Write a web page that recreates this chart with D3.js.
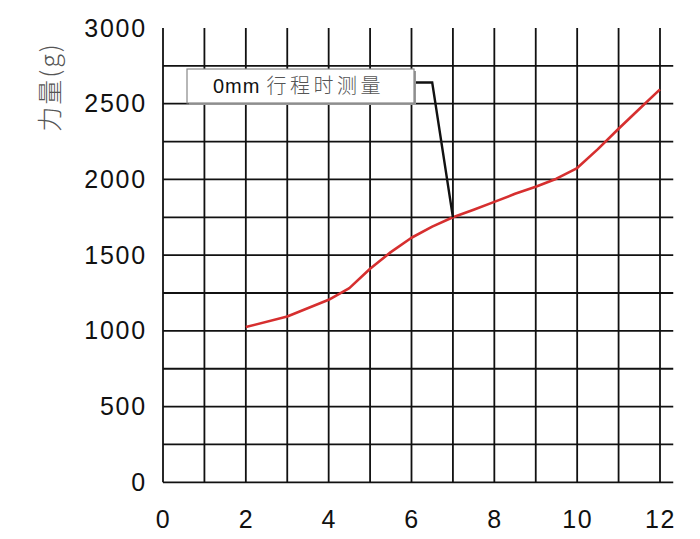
<!DOCTYPE html>
<html><head><meta charset="utf-8">
<script src="https://cdn.jsdelivr.net/npm/d3@7"></script>
<style>body{margin:0;background:#fff}</style>
</head><body>
<svg id="c" width="700" height="539"></svg>
<script>
const strokeMM = [2,3,4,4.5,5,5.5,6,6.5,7,7.5,8,8.5,9,9.5,10,10.5,11,11.5,12];
const forceG = [1025,1095,1205,1282,1410,1520,1615,1688,1750,1800,1852,1905,1952,2005,2075,2200,2335,2465,2595];
const xTicks = [0,2,4,6,8,10,12];
const yTicks = [0,500,1000,1500,2000,2500,3000];
const xGrid = [0,1,2,3,4,5,6,7,8,9,10,11,12];
const yGrid = [0,250,500,750,1000,1250,1500,1750,2000,2250,2500,2750];
const yTitle = "力量(g)";
const noteText = ["0mm", "行程时测量"];
const noteAt = {x:7, y:1750, elbowX:6.5, elbowY:2640};

const svg = d3.select("#c");
const x = d3.scaleLinear().domain([0,12]).range([163,660]);
const y = d3.scaleLinear().domain([0,3000]).range([482.3,28]);
const xMax = 12.32;

const g = svg.append("g");
g.selectAll("line.v").data(xGrid).join("line")
  .attr("x1",d=>x(d)).attr("x2",d=>x(d)).attr("y1",y(0)).attr("y2",y(3000))
  .attr("stroke","#111").attr("stroke-width",1.8);
g.selectAll("line.h").data(yGrid).join("line")
  .attr("x1",x(0)).attr("x2",x(xMax)).attr("y1",d=>y(d)).attr("y2",d=>y(d))
  .attr("stroke","#111").attr("stroke-width",1.8);

const fmt = d3.format("d");
const yAxis = d3.axisLeft(y).tickValues(yTicks).tickFormat(fmt).tickSize(0).tickPadding(16);
const ya = svg.append("g").attr("transform",`translate(${x(0)},0)`).call(yAxis);
ya.select(".domain").remove();
ya.selectAll("text").attr("font-family","Liberation Sans, Arial, sans-serif")
  .attr("font-size",25).attr("fill","#111").attr("letter-spacing",1.8);

const xAxis = d3.axisBottom(x).tickValues(xTicks).tickFormat(fmt).tickSize(0).tickPadding(28);
const xa = svg.append("g").attr("transform",`translate(0,${y(0)})`).call(xAxis);
xa.select(".domain").remove();
xa.selectAll("text").attr("font-family","Liberation Sans, Arial, sans-serif")
  .attr("font-size",25).attr("fill","#111").attr("letter-spacing",1.5);

svg.append("text").attr("transform","translate(59,87) rotate(-90)")
  .attr("text-anchor","middle").attr("font-family","Noto Sans CJK SC, sans-serif")
  .attr("font-size",25).attr("font-weight",300).attr("letter-spacing",2).attr("fill","#555").text(yTitle);

const data = strokeMM.map((d,i)=>({x:d,y:forceG[i]}));
svg.append("path").datum(data)
  .attr("d",d3.line().x(d=>x(d.x)).y(d=>y(d.y)))
  .attr("fill","none").attr("stroke","#d62f2f").attr("stroke-width",2.6)
  .attr("stroke-linejoin","round");

const bx=187, bw=227, by=69, bh=34;
svg.append("path")
  .attr("d",`M${bx+bw},${y(noteAt.elbowY)} L${x(noteAt.elbowX)},${y(noteAt.elbowY)} L${x(noteAt.x)},${y(noteAt.y)}`)
  .attr("fill","none").attr("stroke","#111").attr("stroke-width",2.4);
svg.append("rect").attr("x",bx+2).attr("y",by+2).attr("width",bw).attr("height",bh).attr("fill","#999");
svg.append("rect").attr("x",bx).attr("y",by).attr("width",bw).attr("height",bh)
  .attr("fill","#fff").attr("stroke","#888").attr("stroke-width",1.2);
const t = svg.append("text").attr("x",213).attr("y",93).attr("font-size",20);
t.append("tspan").attr("font-family","Liberation Sans, Arial, sans-serif").attr("fill","#111").attr("letter-spacing",1).text(noteText[0]);
t.append("tspan").attr("dx",6).attr("font-family","Noto Sans CJK SC, sans-serif").attr("font-weight",300)
  .attr("font-size",20).attr("fill","#555").attr("letter-spacing",3.5).text(noteText[1]);
</script>
</body></html>
